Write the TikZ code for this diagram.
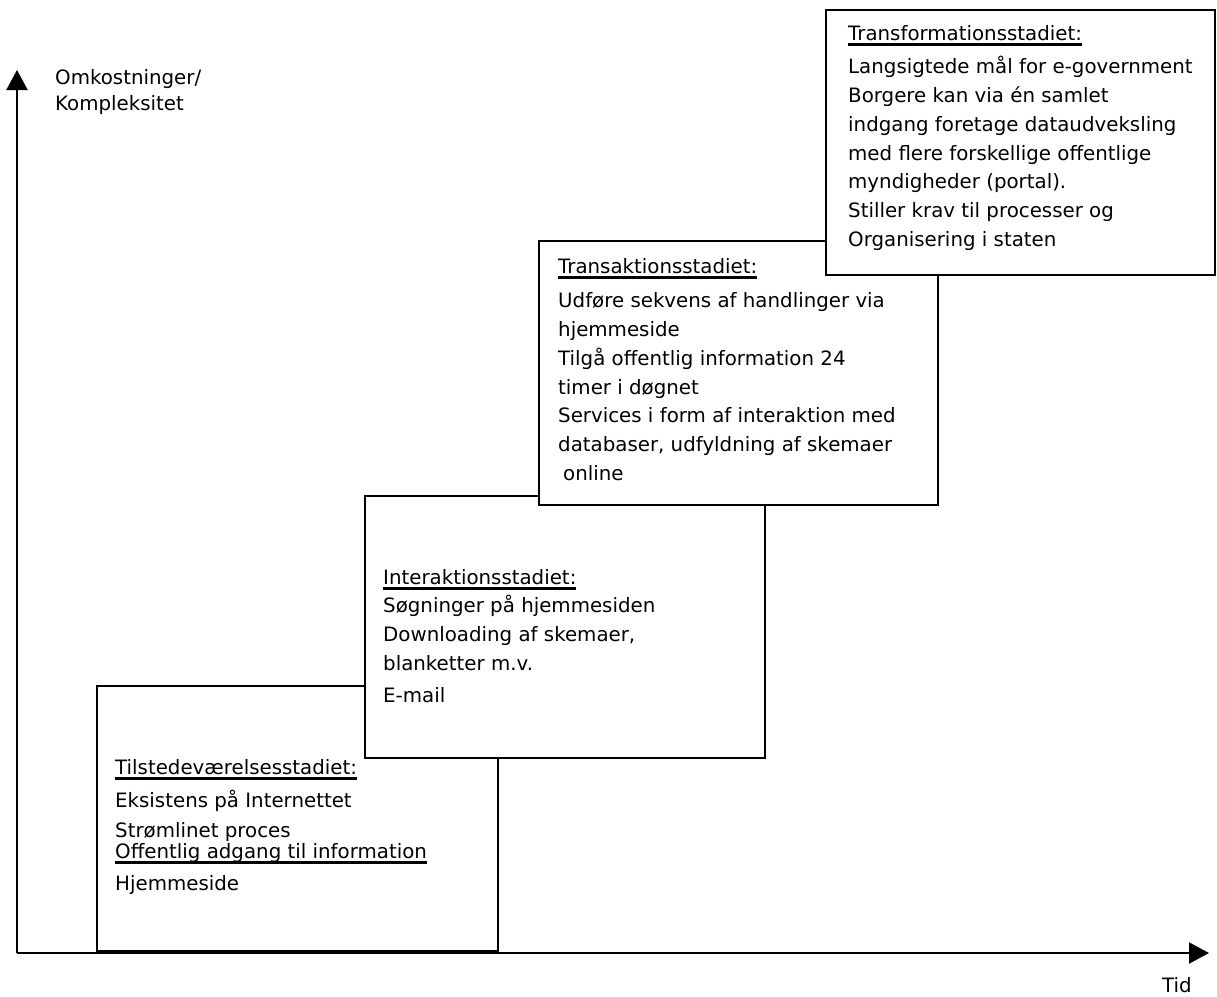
\documentclass[tikz,border=0pt]{standalone}
\usepackage{fontspec}
\setmainfont{DejaVu Sans}
\usetikzlibrary{arrows.meta}
\newlength\ulw
\newcommand\myul[1]{\settowidth{\ulw}{#1}\rlap{\rule[-5.5pt]{\ulw}{2.8pt}}#1}
\newcommand\topstrut{\rule{0pt}{20pt}}
\newcommand\diafont{\fontsize{19.8}{28.7}\selectfont}
\tikzset{
  stagebox/.style={draw=black, line width=2.1pt, fill=white, rectangle, anchor=north west, inner sep=0pt},
  stagetext/.style={anchor=north west, inner sep=0pt, align=left, font=\diafont, text=black},
  axisline/.style={line width=2.1pt, -{Triangle[length=20pt,width=21pt]}},
}
\begin{document}
\begin{tikzpicture}[x=1pt,y=-1pt]
\useasboundingbox (0,0) rectangle (1217,996);
% axes
\coordinate (O) at (17,953);
\coordinate (ytip) at (17,70);
\coordinate (xtip) at (1209,953);
\draw[axisline] (O) -- (ytip);
\draw[axisline] (O) -- (xtip);
\node[stagetext] (ylab) at (55,64) {\topstrut Omkostninger/\\[-2.7pt]Kompleksitet};
\node[stagetext] (xlab) at (1162,972) {\topstrut Tid};
% stage 1
\node[stagebox, minimum width=401pt, minimum height=265pt] (b1) at (96,685) {};
\node[stagetext] (t1) at (115,754) {\topstrut\myul{Tilstedeværelsesstadiet:}\\[4.3pt]
Eksistens på Internettet\\[1.3pt]
Strømlinet proces\\[-7.7pt]
\myul{Offentlig adgang til information}\\[3.3pt]
Hjemmeside};
% stage 2
\node[stagebox, minimum width=400pt, minimum height=262pt] (b2) at (364,495) {};
\node[stagetext] (t2) at (383,564) {\topstrut\myul{Interaktionsstadiet:}\\
Søgninger på hjemmesiden\\
Downloading af skemaer,\\
blanketter m.v.\\[3pt]
E-mail};
% stage 3
\node[stagebox, minimum width=399pt, minimum height=264pt] (b3) at (538,240) {};
\node[stagetext] (t3) at (558,253) {\topstrut\myul{Transaktionsstadiet:}\\[6pt]
Udføre sekvens af handlinger via\\
hjemmeside\\
Tilgå offentlig information 24\\
timer i døgnet\\
Services i form af interaktion med\\
databaser, udfyldning af skemaer\\
\hspace*{5pt}online};
% stage 4
\node[stagebox, minimum width=389pt, minimum height=265pt] (b4) at (825,9) {};
\node[stagetext] (t4) at (848,20) {\topstrut\myul{Transformationsstadiet:}\\[5pt]
Langsigtede mål for e-government\\
Borgere kan via én samlet\\
indgang foretage dataudveksling\\
med flere forskellige offentlige\\
myndigheder (portal).\\
Stiller krav til processer og\\
Organisering i staten};
\end{tikzpicture}
\end{document}
